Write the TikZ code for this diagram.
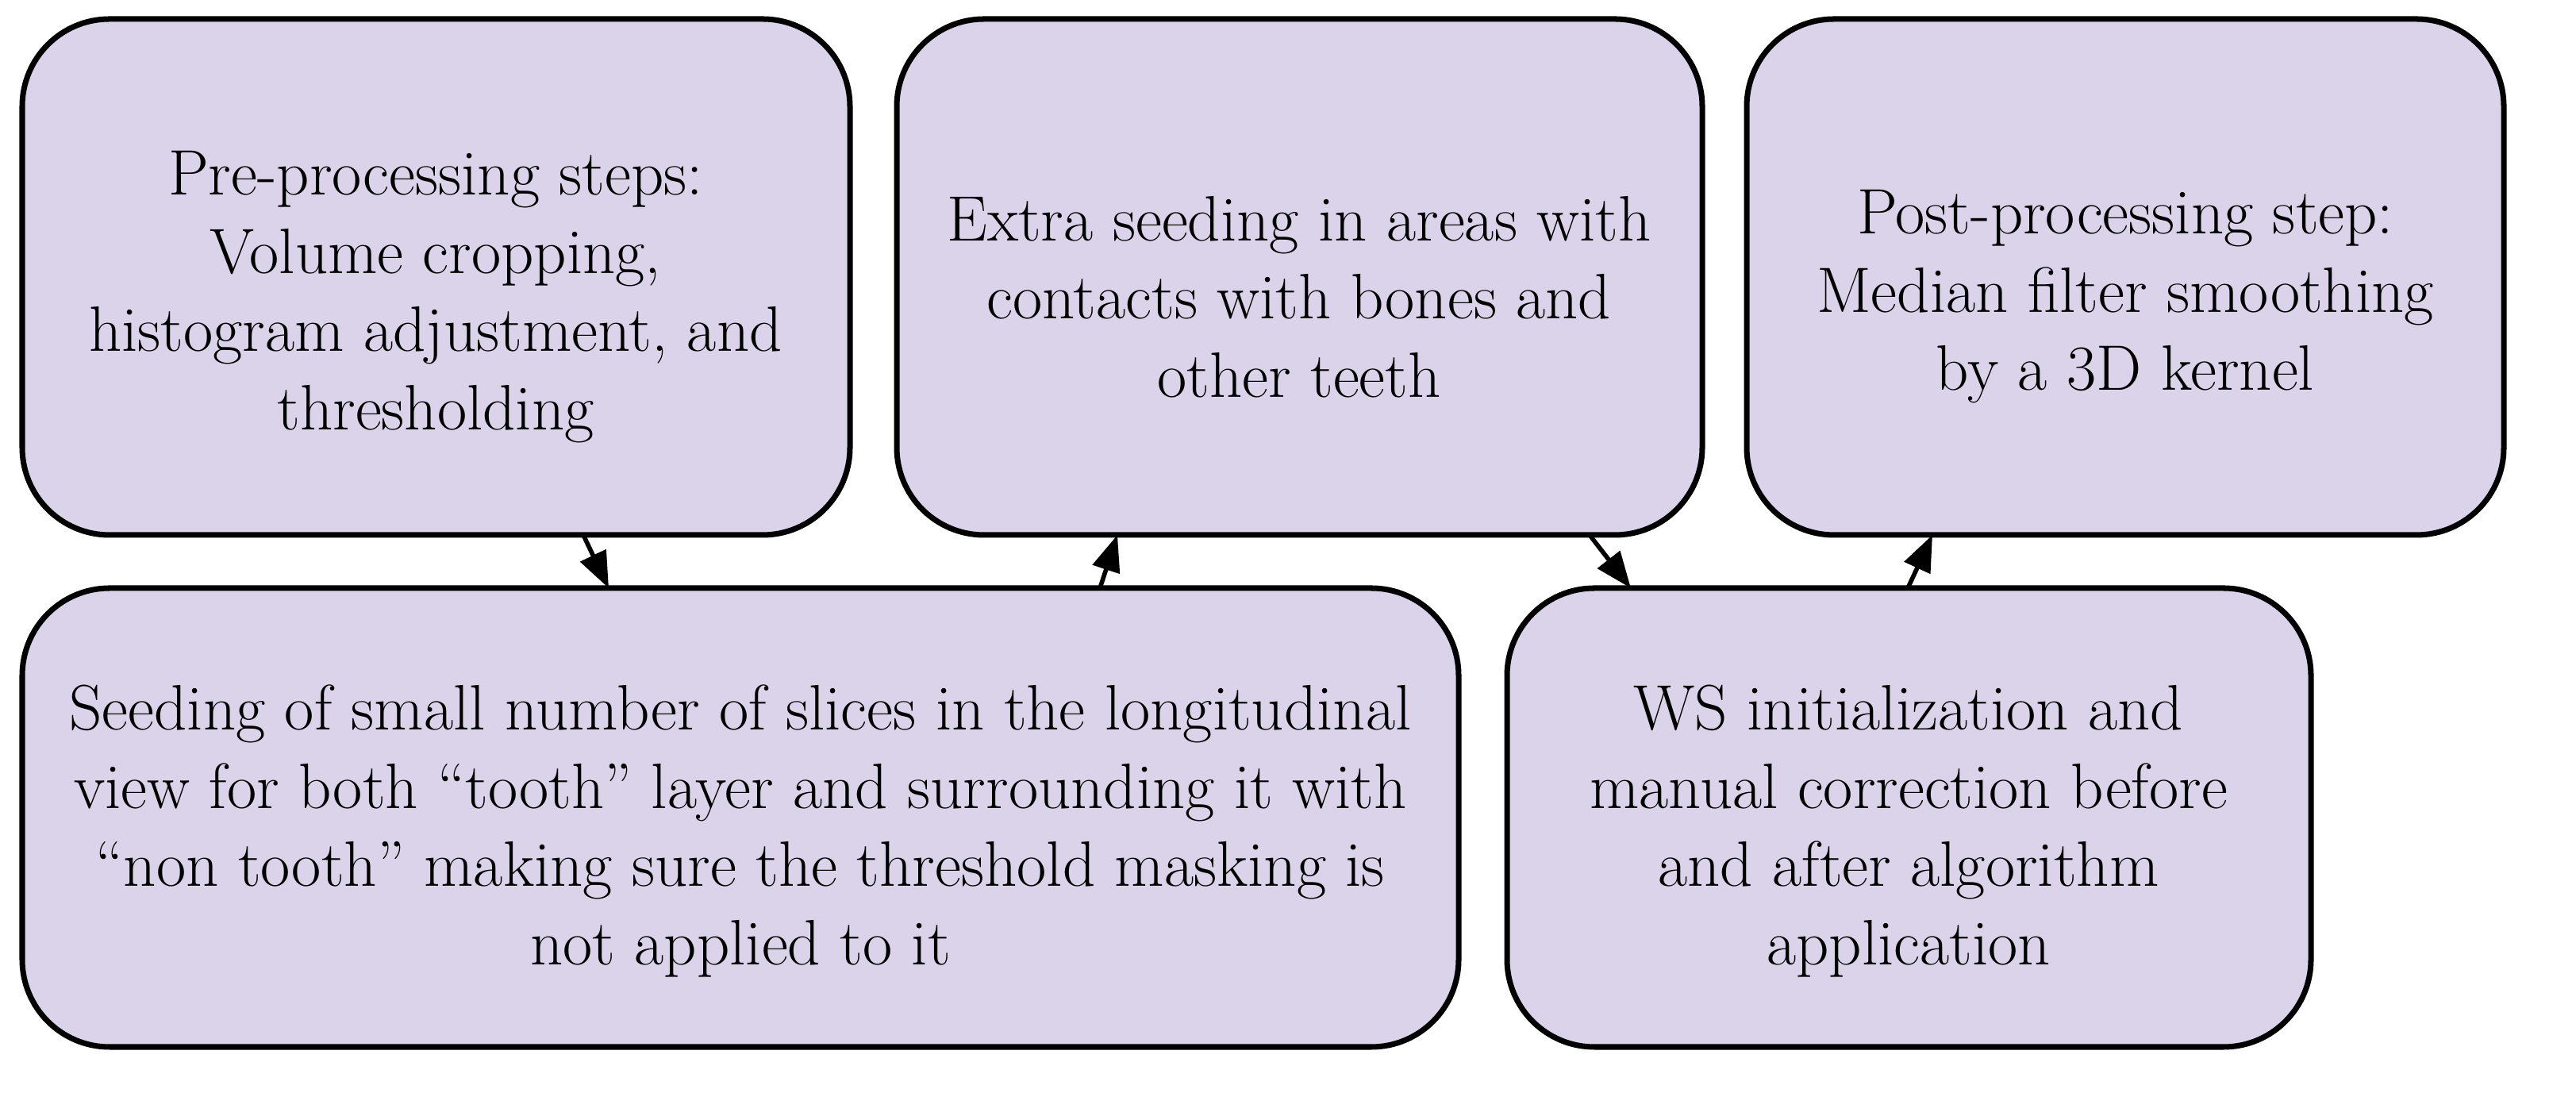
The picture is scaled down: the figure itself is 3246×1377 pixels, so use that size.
\documentclass[tikz,border=0pt]{standalone}
\usetikzlibrary{arrows.meta}
\definecolor{boxfill}{HTML}{DAD3E9}
\begin{document}
\begin{tikzpicture}[x=0.01cm,y=0.01cm,
  box/.style={draw=black,line width=2pt,fill=boxfill,rounded corners=1.1cm},
  lbl/.style={align=center,font=\fontsize{23}{28}\selectfont},
  arr/.style={line width=1.6pt,-{Triangle[length=13pt,width=10pt]}}]
\useasboundingbox (0,0) rectangle (3246,1377);
\draw[box] (28,703) rectangle (1071,1353);
\draw[box] (1130,703) rectangle (2145,1353);
\draw[box] (2201,703) rectangle (3155,1353);
\draw[box] (28,58) rectangle (1838,636);
\draw[box] (1899,58) rectangle (2912,636);
\node[lbl] (t1) at (549,1003) {Pre-processing steps:\\Volume cropping,\\histogram adjustment, and\\thresholding};
\node[lbl] (t2) at (1637,1003) {Extra seeding in areas with\\contacts with bones and\\other teeth};
\node[lbl] (t3) at (2678,1003) {Post-processing step:\\Median filter smoothing\\by a 3D kernel};
\node[lbl] (t4) at (933,330) {Seeding of small number of slices in the longitudinal\\view for both ``tooth'' layer and surrounding it with\\``non tooth'' making sure the threshold masking is\\not applied to it};
\node[lbl] (t5) at (2405,330) {WS initialization and\\manual correction before\\and after algorithm\\application};
\coordinate (a1) at (735,703); \coordinate (b1) at (767,636);
\coordinate (a2) at (1386,636); \coordinate (b2) at (1408,703);
\coordinate (a3) at (2003,703); \coordinate (b3) at (2055,636);
\coordinate (a4) at (2404,636); \coordinate (b4) at (2435,703);
\draw[arr] (a1) -- (b1);
\draw[arr] (a2) -- (b2);
\draw[arr] (a3) -- (b3);
\draw[arr] (a4) -- (b4);
\end{tikzpicture}
\end{document}
